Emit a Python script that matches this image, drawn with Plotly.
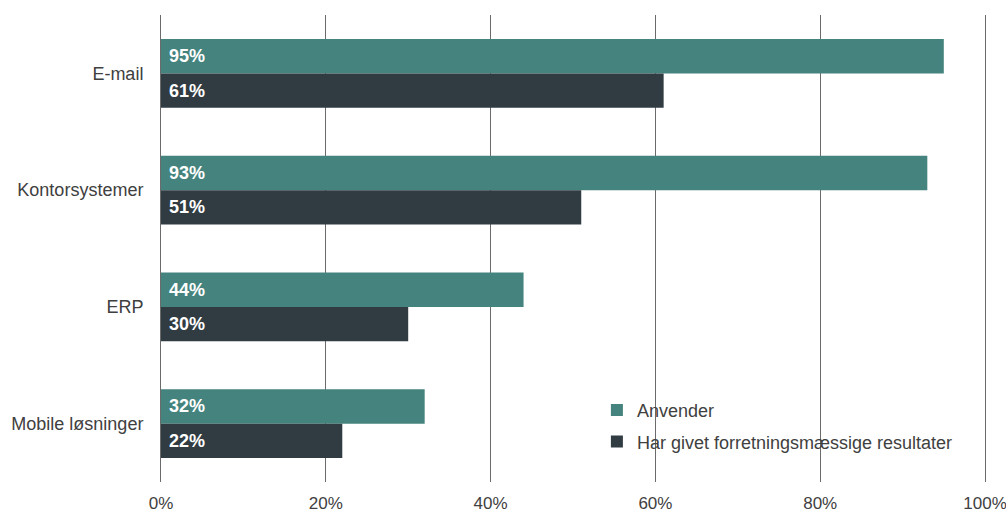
import plotly.graph_objects as go

categories = ["E-mail", "Kontorsystemer", "ERP", "Mobile løsninger"]
anvender = [95, 93, 44, 32]
resultater = [61, 51, 30, 22]
series_names = ["Anvender", "Har givet forretningsmæssige resultater"]
x_ticks = [0, 20, 40, 60, 80, 100]
x_tick_labels = ["0%", "20%", "40%", "60%", "80%", "100%"]

TEAL = "#44837E"
DARK = "#313C42"
GRID = "#6b6b6b"
FONT = "Liberation Sans, Arial, sans-serif"

fig = go.Figure()
for name, vals, color, grp in [
    (series_names[0], anvender, TEAL, "a"),
    (series_names[1], resultater, DARK, "b"),
]:
    fig.add_trace(go.Bar(
        y=categories, x=vals, name=name, orientation="h",
        marker=dict(color=color, line=dict(width=0)),
        text=[f" {v}%" for v in vals], textposition="inside",
        insidetextanchor="start",
        textfont=dict(color="white", size=18, family=FONT, weight="bold"),
        legendgroup=grp,
    ))

fig.update_layout(
    width=1006, height=516,
    margin=dict(l=161, r=21, t=15, b=34),
    barmode="group", bargap=0.41, bargroupgap=0,
    plot_bgcolor="white", paper_bgcolor="white",
    font=dict(family=FONT, size=18, color="#404040"),
    uniformtext=dict(mode="show", minsize=18),
    legend=dict(
        x=0.529, y=0.193, xanchor="left", yanchor="top",
        traceorder="grouped", tracegroupgap=5,
        font=dict(size=18, color="#404040"),
        bgcolor="rgba(0,0,0,0)", itemwidth=30,
    ),
    xaxis=dict(
        range=[0, 100], tickvals=x_ticks, ticktext=x_tick_labels,
        tickfont=dict(size=17),
        showgrid=True, gridcolor=GRID, gridwidth=1,
        zeroline=False, showline=False, ticklabelstandoff=9,
        ticklabeloverflow="allow", automargin=False,
    ),
    yaxis=dict(
        autorange="reversed", showgrid=False, zeroline=False,
        showline=True, mirror=True, linecolor=GRID, linewidth=1,
        ticklabelstandoff=13, automargin=False,
    ),
)

fig.write_html("out.html")
